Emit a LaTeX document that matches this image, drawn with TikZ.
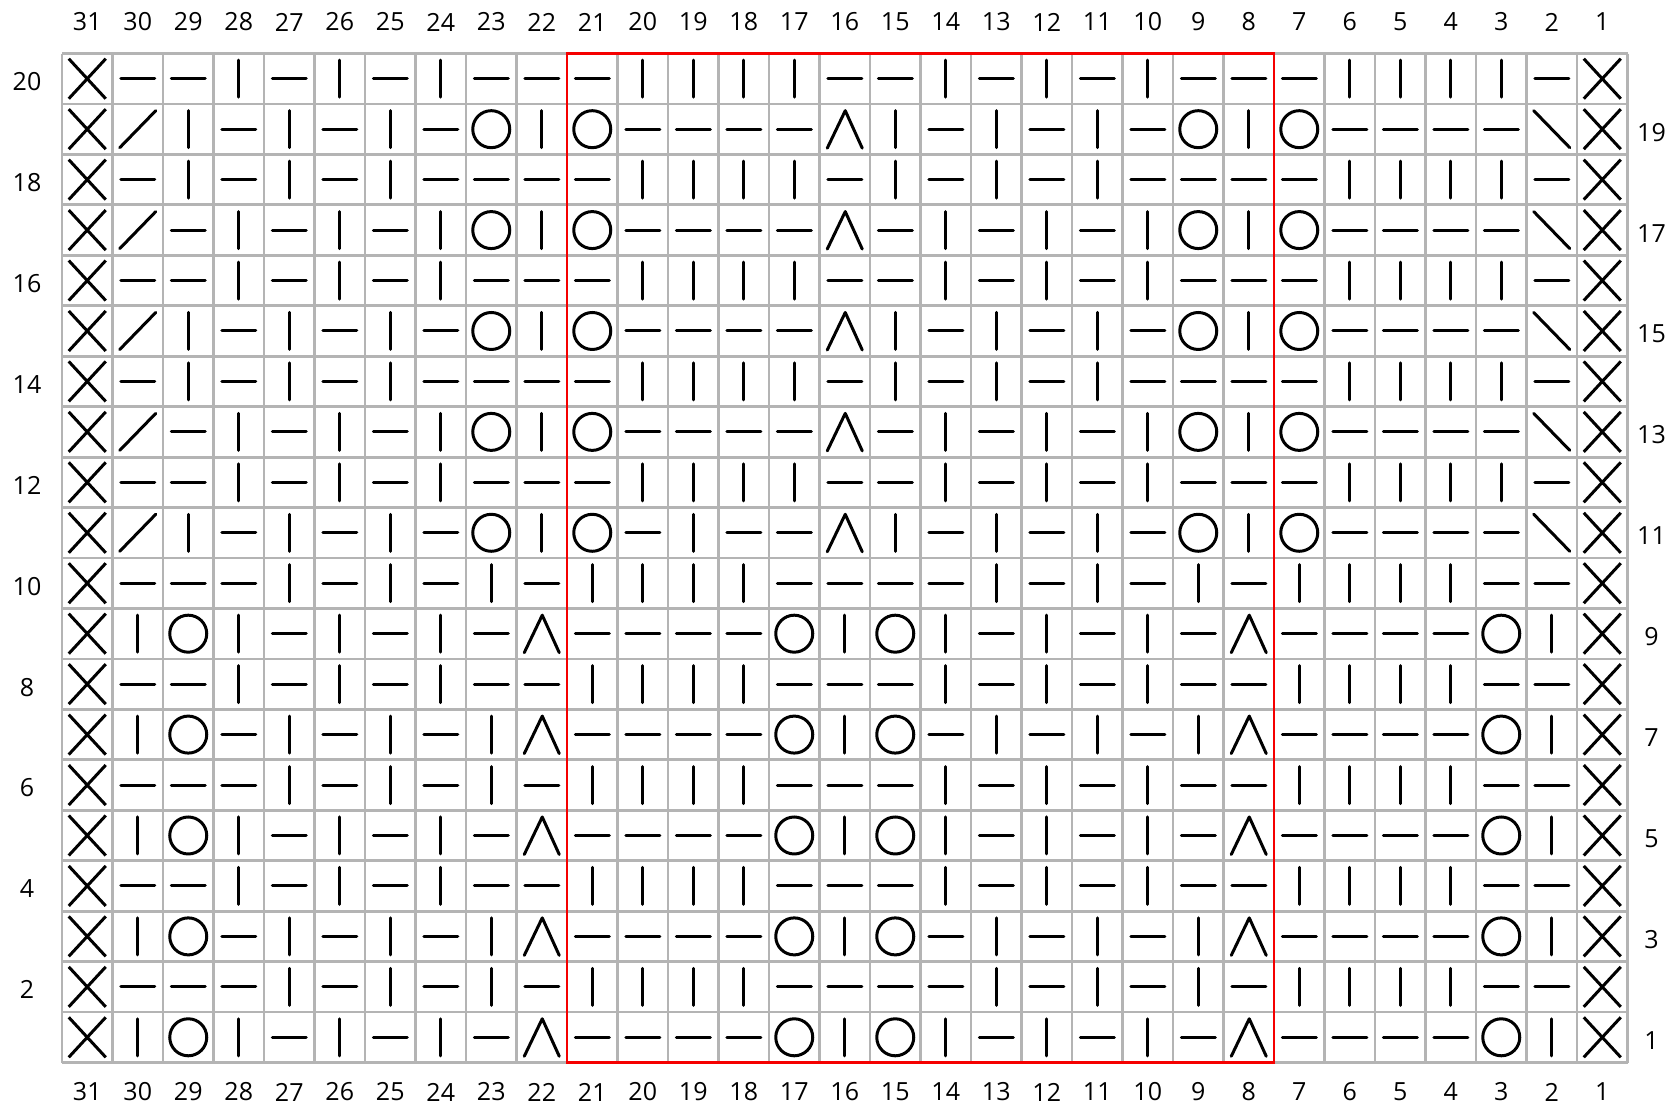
\documentclass[tikz,border=0pt]{standalone}
\usepackage{fontspec}
\setmainfont{Open Sans}
\definecolor{gridgray}{RGB}{180,180,180}
\definecolor{boxred}{RGB}{245,0,0}
\tikzset{
  sym/.style={line width=3pt, black},
  gridline/.style={gridgray, line width=2.8pt, line cap=square},
  redbox/.style={boxred, line width=2.6pt},
  lab/.style={inner sep=0pt, font=\fontsize{25}{30}\selectfont},
  kx/.pic={\draw[sym] (-18.5,-20)--(18.5,20) (-18.5,20)--(18.5,-20);},
  kh/.pic={\draw[sym,line cap=round] (-17,0)--(17,0);},
  kv/.pic={\draw[sym,line cap=round] (0,-18.5)--(0,18.5);},
  ks/.pic={\draw[sym,line cap=round] (-18,18.5)--(18,-18.5);},
  kb/.pic={\draw[sym,line cap=round] (-18,-18.5)--(18,18.5);},
  ko/.pic={\draw[sym] (0,0) circle[radius=18.5];},
  ka/.pic={\draw[sym,line cap=round,line join=round] (-17.5,19)--(0.5,-18.5)--(17.5,19);},
}
\newcommand\knitrowi[2]{%
  \foreach \s [count=\i] in {#1} {%
    \edef\knitcmd{\noexpand\pic at ({62+(\i-0.5)*50.5},{53.5+(20-#2+0.5)*50.45}) {k\s};}%
    \knitcmd}}
\newcommand\knitrow[2]{\expandafter\knitrowi\expandafter{#2}{#1}}
\def\RA{x,h,h,v,h,v,h,v,h,h,h,v,v,v,v,h,h,v,h,v,h,v,h,h,h,v,v,v,v,h,x}
\def\RB{x,s,v,h,v,h,v,h,o,v,o,h,h,h,h,a,v,h,v,h,v,h,o,v,o,h,h,h,h,b,x}
\def\RC{x,h,v,h,v,h,v,h,h,h,h,v,v,v,v,h,v,h,v,h,v,h,h,h,h,v,v,v,v,h,x}
\def\RD{x,s,h,v,h,v,h,v,o,v,o,h,h,h,h,a,h,v,h,v,h,v,o,v,o,h,h,h,h,b,x}
\def\RE{x,s,v,h,v,h,v,h,o,v,o,h,v,h,h,a,v,h,v,h,v,h,o,v,o,h,h,h,h,b,x}
\def\RF{x,h,h,h,v,h,v,h,v,h,v,v,v,v,h,h,h,h,v,h,v,h,v,h,v,v,v,v,h,h,x}
\def\RG{x,v,o,v,h,v,h,v,h,a,h,h,h,h,o,v,o,v,h,v,h,v,h,a,h,h,h,h,o,v,x}
\def\RH{x,h,h,v,h,v,h,v,h,h,v,v,v,v,h,h,h,v,h,v,h,v,h,h,v,v,v,v,h,h,x}
\def\RI{x,v,o,h,v,h,v,h,v,a,h,h,h,h,o,v,o,h,v,h,v,h,v,a,h,h,h,h,o,v,x}
\def\RJ{x,h,h,h,v,h,v,h,v,h,v,v,v,v,h,h,h,v,h,v,h,v,h,h,v,v,v,v,h,h,x}
\begin{document}
\begin{tikzpicture}[x=1pt,y=-1pt]
\clip (0,0) rectangle (1667,1104);
\fill[white] (0,0) rectangle (1667,1104);
% grid
\foreach \k in {0,...,31}
  \draw[gridline] ({62+\k*50.5},53.5) -- ({62+\k*50.5},{53.5+20*50.45});
\foreach \k in {0,...,20}
  \draw[gridline] (62,{53.5+\k*50.45}) -- ({62+31*50.5},{53.5+\k*50.45});
% red repeat box
\draw[redbox] (567,53.5) rectangle (1274,{53.5+20*50.45});
% symbols
\knitrow{20}{\RA}
\knitrow{19}{\RB}
\knitrow{18}{\RC}
\knitrow{17}{\RD}
\knitrow{16}{\RA}
\knitrow{15}{\RB}
\knitrow{14}{\RC}
\knitrow{13}{\RD}
\knitrow{12}{\RA}
\knitrow{11}{\RE}
\knitrow{10}{\RF}
\knitrow{9}{\RG}
\knitrow{8}{\RH}
\knitrow{7}{\RI}
\knitrow{6}{\RJ}
\knitrow{5}{\RG}
\knitrow{4}{\RH}
\knitrow{3}{\RI}
\knitrow{2}{\RF}
\knitrow{1}{\RG}
% column labels
\foreach \c in {1,...,31} {
  \node[lab] (top\c) at ({62+(31-\c+0.5)*50.5},22) {\c};
  \node[lab] (bot\c) at ({62+(31-\c+0.5)*50.5},1092) {\c};
}
% row labels
\foreach \r in {2,4,...,20}
  \node[lab] (left\r) at (27,{53.5+(20-\r+0.5)*50.45+3}) {\r};
\foreach \r in {1,3,...,19}
  \node[lab] (right\r) at (1651.5,{53.5+(20-\r+0.5)*50.45+3}) {\r};
\end{tikzpicture}
\end{document}
